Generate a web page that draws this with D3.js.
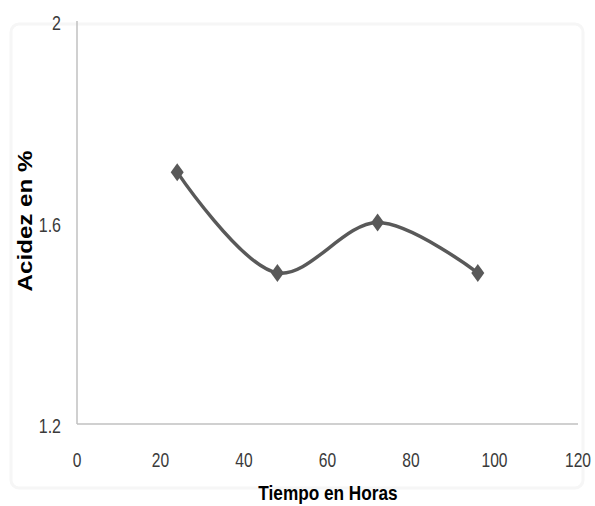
<!DOCTYPE html>
<html>
<head>
<meta charset="utf-8">
<script src="https://cdn.jsdelivr.net/npm/d3@7"></script>
<style>
  body { margin: 0; background: #fff; }
  svg { display: block; }
</style>
</head>
<body>
<script>
(function () {
  // datos
  const horas = [24, 48, 72, 96]
  const acidez = [1.7, 1.5, 1.6, 1.5]
  const xTicks = [0, 20, 40, 60, 80, 100, 120]
  const yTicks = [1.2, 1.6, 2]

  const W = 595, H = 506
  const svg = d3.select('body').append('svg')
                .attr('width', W)
                .attr('height', H)

  // marco tenue del area del grafico
  svg.append('rect')
     .attr('x', 11).attr('y', 24)
     .attr('width', 572).attr('height', 464)
     .attr('rx', 8)
     .attr('fill', 'none')
     .attr('stroke', '#f6f6f6')
     .attr('stroke-width', 3)

  const x = d3.scaleLinear().domain([0, 120]).range([77, 578])
  const y = d3.scaleLinear().domain([1.2, 2]).range([424, 21])

  const font = "'Liberation Sans', Arial, sans-serif"

  // eje Y
  svg.append('line')
     .attr('x1', x(0)).attr('x2', x(0))
     .attr('y1', y(2)).attr('y2', y(1.2))
     .attr('stroke', '#c0c0c0')
     .attr('stroke-width', 1.5)

  // eje X
  svg.append('line')
     .attr('x1', x(0)).attr('x2', x(120))
     .attr('y1', y(1.2)).attr('y2', y(1.2))
     .attr('stroke', '#c0c0c0')
     .attr('stroke-width', 1.5)

  svg.selectAll('.ytick')
     .data(yTicks)
     .enter()
     .append('text')
     .attr('class', 'ytick')
     .attr('transform', d => `translate(61,${y(d) + 2}) scale(0.8,1)`)
     .attr('dy', '0.35em')
     .attr('text-anchor', 'end')
     .attr('font-family', font)
     .attr('font-size', 20)
     .attr('fill', '#3a3a3a')
     .text(d => d)

  svg.selectAll('.xtick')
     .data(xTicks)
     .enter()
     .append('text')
     .attr('class', 'xtick')
     .attr('transform', d => `translate(${x(d)},467) scale(0.78,1)`)
     .attr('text-anchor', 'middle')
     .attr('font-family', font)
     .attr('font-size', 20)
     .attr('fill', '#3a3a3a')
     .text(d => d)

  // titulos
  svg.append('text')
     .attr('transform', 'translate(32,221) rotate(-90) scale(1.15,1)')
     .attr('text-anchor', 'middle')
     .attr('font-family', font)
     .attr('font-weight', 'bold')
     .attr('font-size', 21)
     .attr('fill', '#000')
     .text('Acidez en %')

  svg.append('text')
     .attr('transform', 'translate(328,500) scale(0.82,1)')
     .attr('text-anchor', 'middle')
     .attr('font-family', font)
     .attr('font-weight', 'bold')
     .attr('font-size', 21)
     .attr('fill', '#000')
     .text('Tiempo en Horas')

  // linea suavizada
  const pts = horas.map((h, i) => [h, acidez[i]])
  const line = d3.line()
                 .x(d => x(d[0]))
                 .y(d => y(d[1]))
                 .curve(d3.curveCatmullRom.alpha(0.5))

  svg.append('path')
     .datum(pts)
     .attr('d', line)
     .attr('fill', 'none')
     .attr('stroke', '#595959')
     .attr('stroke-width', 3.5)

  // marcadores rombo
  svg.selectAll('.marca')
     .data(pts)
     .enter()
     .append('path')
     .attr('class', 'marca')
     .attr('transform', d => `translate(${x(d[0])},${y(d[1])})`)
     .attr('d', 'M0,-9L6.5,0L0,9L-6.5,0Z')
     .attr('fill', '#595959')
})()
</script>
</body>
</html>
